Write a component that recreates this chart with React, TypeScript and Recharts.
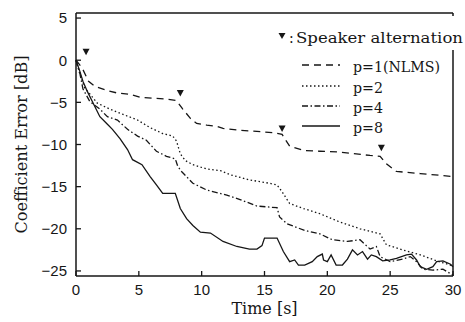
import { ComposedChart, Line, Scatter, XAxis, YAxis, Legend, Label } from 'recharts'

const timeTicks = [0, 5, 10, 15, 20, 25, 30]
const errorTicks = [-25, -20, -15, -10, -5, 0, 5]

// [time in s, coefficient error in dB]
const nlms = [
  [0, 0], [0.5, -0.95], [1.0, -2.5], [1.5, -3.1], [2.5, -3.6], [3.3, -3.9], [4.3, -4.05], [5.1, -4.4],
  [6.1, -4.5], [7.2, -4.6], [8.0, -4.8], [8.5, -5.8], [9.1, -6.9], [9.6, -7.5], [10.4, -7.7], [11.2, -7.85],
  [11.7, -8.1], [13.0, -8.3], [14.4, -8.45], [15.7, -8.6], [16.4, -8.8], [17.0, -10.2], [18.1, -10.7],
  [19.4, -10.8], [21.0, -10.9], [23.4, -11.3], [24.2, -11.4], [24.7, -12.3], [25.5, -13.2], [27.4, -13.45], [30, -13.8],
]
const p2 = [
  [0, 0], [0.3, -1.6], [0.7, -3.3], [1.1, -4.0], [1.7, -5.1], [2.7, -5.8], [3.7, -6.4], [4.9, -7.1], [5.9, -8.0],
  [6.9, -8.7], [7.7, -9.0], [8.0, -9.6], [8.3, -11.1], [8.7, -11.9], [9.3, -12.4], [10.4, -12.9], [11.5, -13.1],
  [12.3, -13.6], [13.8, -14.2], [15.4, -14.6], [16.0, -14.8], [16.4, -15.6], [17.0, -17.0], [18.1, -17.6],
  [19.4, -18.2], [21.0, -19.2], [22.6, -20.0], [24.2, -20.6], [24.7, -21.9], [26.0, -22.5], [27.4, -23.1],
  [28.7, -23.8], [30, -24.4],
]
const p4 = [
  [0, 0], [0.3, -1.5], [0.55, -3.4], [1.1, -4.9], [1.9, -5.8], [2.5, -6.7], [3.3, -7.1], [4.1, -8.2], [4.9, -9.0],
  [5.6, -9.5], [6.4, -10.8], [7.2, -11.4], [7.9, -11.7], [8.1, -12.6], [8.4, -13.2], [9.3, -14.6], [10.4, -15.4],
  [12.0, -16.0], [13.0, -16.5], [14.4, -17.3], [16.0, -17.5], [16.2, -18.6], [16.8, -19.4], [18.2, -20.2],
  [19.4, -20.6], [20.4, -21.3], [21.6, -21.5], [22.6, -21.3], [23.4, -22.4], [23.9, -22.1], [24.2, -23.3],
  [25.0, -23.9], [26.0, -23.6], [26.6, -23.3], [27.1, -23.9], [27.6, -24.8], [28.4, -24.9], [29.2, -24.8], [30, -25.5],
]
const p8 = [
  [0, 0], [0.3, -1.3], [0.55, -2.5], [0.9, -3.7], [1.3, -4.9], [1.9, -6.7], [2.5, -7.6], [2.9, -8.2], [3.5, -9.3],
  [4.1, -10.6], [4.5, -11.8], [5.25, -12.4], [5.9, -13.8], [6.4, -14.8], [6.9, -15.8], [7.9, -15.8], [8.3, -17.6],
  [8.8, -18.8], [9.3, -19.6], [9.9, -20.4], [10.7, -20.5], [11.7, -21.5], [12.8, -22.1], [13.8, -22.4], [14.4, -22.4],
  [14.8, -22.0], [15.0, -21.1], [16.0, -21.1], [16.5, -22.7], [17.0, -23.9], [17.4, -23.7], [17.7, -24.3], [18.2, -24.3],
  [18.8, -23.9], [19.2, -23.3], [19.6, -23.0], [19.7, -23.7], [20.0, -23.9], [20.3, -23.1], [20.7, -24.3], [21.2, -24.3],
  [21.6, -23.6], [22.0, -22.5], [22.4, -23.1], [22.8, -22.7], [23.2, -23.6], [23.5, -23.1], [23.9, -23.3], [24.4, -23.8],
  [25.0, -23.7], [25.5, -23.5], [26.3, -23.1], [26.7, -23.0], [27.1, -23.7], [27.4, -24.5], [27.9, -24.8], [28.4, -24.5],
  [28.7, -23.9], [29.2, -23.8], [29.8, -24.2], [30, -24.5],
]
const speakerAlternation = [[0.8, 1.0], [8.3, -3.9], [16.4, -8.1], [24.3, -10.4]]

const toPoints = (pairs: number[][]) => pairs.map(([t, v]) => ({ t, v }))

const INK = '#161616'
const serif = '"DejaVu Serif", serif'
const sans = '"Liberation Sans", Arial, sans-serif'

const series = [
  { name: 'p=1(NLMS)', data: nlms, dash: '7 5', textWidth: 87 },
  { name: 'p=2', data: p2, dash: '1.5 2.5', textWidth: 30 },
  { name: 'p=4', data: p4, dash: '6 2.5 1.5 2.5', textWidth: 30 },
  { name: 'p=8', data: p8, dash: undefined, textWidth: 30 },
]

const fmtTick = (v: number) => (v < 0 ? `\u2212${Math.abs(v)}` : `${v}`)

function DownTriangle({ cx, cy }: any) {
  return <path d={`M${cx - 3.5},${cy - 3} L${cx + 3.5},${cy - 3} L${cx},${cy + 3.5} Z`} fill={INK} />
}

function LegendBox() {
  return (
    <svg width={465} height={322} style={{ position: 'absolute', left: 0, top: 0 }}>
      <rect x={447} y={16} width={18} height={34} fill="#fff" />
      <path d="M278.5,33 L285.5,33 L282,39 Z" fill={INK} />
      <text x={289} y={43} fontFamily={serif} fontSize={14} fill={INK}>:</text>
      <text x={296} y={43} fontFamily={serif} fontSize={14} fill={INK} textLength={167} lengthAdjust="spacingAndGlyphs">
        Speaker alternation
      </text>
      {series.map((s, i) => {
        const base = [72, 93, 113, 133][i]
        return (
          <g key={s.name}>
            <line x1={302} x2={340} y1={base - 7} y2={base - 7} stroke={INK} strokeWidth={1.3} strokeDasharray={s.dash} />
            <text x={353} y={base} fontFamily={serif} fontSize={14} fill={INK} textLength={s.textWidth} lengthAdjust="spacingAndGlyphs">
              {s.name}
            </text>
          </g>
        )
      })}
    </svg>
  )
}

export default function App() {
  const axisLine = { stroke: INK, strokeWidth: 1.5 }
  const tickLine = { stroke: INK, strokeWidth: 1.3 }
  const tickFont = { fill: INK, fontSize: 15, fontFamily: sans }
  return (
    <div style={{ position: 'absolute', left: 0, top: 0, background: '#fff' }}>
      <ComposedChart width={465} height={322} margin={{ top: 0, right: 0, bottom: 0, left: 0 }}>
        <XAxis
          dataKey="t"
          type="number"
          domain={[0, 30]}
          ticks={timeTicks}
          height={46}
          axisLine={axisLine}
          tickLine={tickLine}
          tickSize={-5}
          tickMargin={13}
          tick={tickFont}
        >
          <Label
            content={({ viewBox }: any) => (
              <text x={viewBox.x + viewBox.width / 2} y={314} textAnchor="middle" fontFamily={serif} fontSize={16} fill={INK}>
                Time [s]
              </text>
            )}
          />
        </XAxis>
        <XAxis xAxisId="top" orientation="top" type="number" domain={[0, 30]} ticks={timeTicks} height={13} axisLine={axisLine} tickLine={tickLine} tickSize={-5} tick={false} />
        <YAxis
          dataKey="v"
          type="number"
          domain={[-25.6, 5.6]}
          ticks={errorTicks}
          width={76}
          axisLine={axisLine}
          tickLine={tickLine}
          tickSize={-5}
          tickMargin={14}
          tick={tickFont}
          tickFormatter={fmtTick}
          allowDataOverflow
        >
          <Label
            content={({ viewBox }: any) => {
              const cy = viewBox.y + viewBox.height / 2
              return (
                <text x={27} y={cy} transform={`rotate(-90, 27, ${cy})`} textAnchor="middle" fontFamily={serif} fontSize={16} fill={INK} textLength={178} lengthAdjust="spacingAndGlyphs">
                  Coefficient Error [dB]
                </text>
              )
            }}
          />
        </YAxis>
        <YAxis yAxisId="right" orientation="right" type="number" domain={[-25.6, 5.6]} ticks={errorTicks} width={12} axisLine={axisLine} tickLine={tickLine} tickSize={-5} tick={false} allowDataOverflow />
        {series.map((s) => (
          <Line
            key={s.name}
            name={s.name}
            data={toPoints(s.data)}
            dataKey="v"
            type="linear"
            stroke={INK}
            strokeWidth={1.3}
            strokeDasharray={s.dash}
            dot={false}
            activeDot={false}
            isAnimationActive={false}
          />
        ))}
        <Scatter data={toPoints(speakerAlternation)} dataKey="v" shape={DownTriangle} isAnimationActive={false} />
        <Legend
          layout="vertical"
          align="center"
          verticalAlign="middle"
          content={() => <LegendBox />}
          wrapperStyle={{ left: 0, top: 0, width: 465, height: 322, pointerEvents: 'none' }}
        />
      </ComposedChart>
    </div>
  )
}
